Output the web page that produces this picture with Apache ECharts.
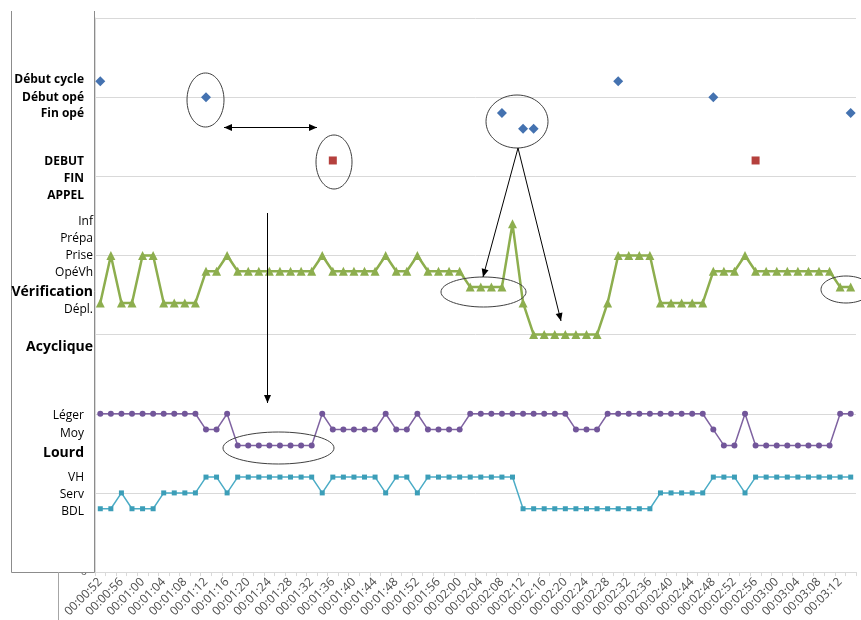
<!DOCTYPE html>
<html>
<head>
<meta charset="utf-8">
<script src="https://cdn.jsdelivr.net/npm/echarts@6/dist/echarts.min.js"></script>
<style>
html,body{margin:0;padding:0;background:#fff;}
#chart{width:861px;height:620px;}
</style>
</head>
<body>
<div id="chart"></div>
<script>
// ---- categories (time stamps, every 2 s) ----
const categories = [
 '00:00:52','00:00:54','00:00:56','00:00:58',
 '00:01:00','00:01:02','00:01:04','00:01:06','00:01:08','00:01:10','00:01:12','00:01:14','00:01:16','00:01:18',
 '00:01:20','00:01:22','00:01:24','00:01:26','00:01:28','00:01:30','00:01:32','00:01:34','00:01:36','00:01:38',
 '00:01:40','00:01:42','00:01:44','00:01:46','00:01:48','00:01:50','00:01:52','00:01:54','00:01:56','00:01:58',
 '00:02:00','00:02:02','00:02:04','00:02:06','00:02:08','00:02:10','00:02:12','00:02:14','00:02:16','00:02:18',
 '00:02:20','00:02:22','00:02:24','00:02:26','00:02:28','00:02:30','00:02:32','00:02:34','00:02:36','00:02:38',
 '00:02:40','00:02:42','00:02:44','00:02:46','00:02:48','00:02:50','00:02:52','00:02:54','00:02:56','00:02:58',
 '00:03:00','00:03:02','00:03:04','00:03:06','00:03:08','00:03:10','00:03:12','00:03:14'
];

// ---- series values ----
const _ = null;
// Début cycle (6.2) / Début opé (6.0) / Fin opé (5.8) ...
const cycleEvents = [
 6.2,_,_,_,_,_,_,_,_,_,6.0,_,
 _,_,_,_,_,_,_,_,_,_,_,_,
 _,_,_,_,_,_,_,_,_,_,_,_,
 _,_,5.8,_,5.6,5.6,_,_,_,_,_,_,
 _,6.2,_,_,_,_,_,_,_,_,6.0,_,
 _,_,_,_,_,_,_,_,_,_,_,5.8
];
// DEBUT (5.2) / FIN (5.0) / APPEL (4.8)
const callEvents = [
 _,_,_,_,_,_,_,_,_,_,_,_,
 _,_,_,_,_,_,_,_,_,_,5.2,_,
 _,_,_,_,_,_,_,_,_,_,_,_,
 _,_,_,_,_,_,_,_,_,_,_,_,
 _,_,_,_,_,_,_,_,_,_,_,_,
 _,_,5.2,_,_,_,_,_,_,_,_,_
];
// Inf 4.4 / Prépa 4.2 / Prise 4.0 / OpéVh 3.8 / Vérification 3.6 / Dépl. 3.4 / Acyclique 3.0
const activity = [
 3.4,4.0,3.4,3.4,4.0,4.0,3.4,3.4,3.4,3.4,3.8,3.8,
 4.0,3.8,3.8,3.8,3.8,3.8,3.8,3.8,3.8,4.0,3.8,3.8,
 3.8,3.8,3.8,4.0,3.8,3.8,4.0,3.8,3.8,3.8,3.8,3.6,
 3.6,3.6,3.6,4.4,3.4,3.0,3.0,3.0,3.0,3.0,3.0,3.0,
 3.4,4.0,4.0,4.0,4.0,3.4,3.4,3.4,3.4,3.4,3.8,3.8,
 3.8,4.0,3.8,3.8,3.8,3.8,3.8,3.8,3.8,3.8,3.6,3.6
];
// Léger 2.0 / Moy 1.8 / Lourd 1.6
const load = [
 2.0,2.0,2.0,2.0,2.0,2.0,2.0,2.0,2.0,2.0,1.8,1.8,
 2.0,1.6,1.6,1.6,1.6,1.6,1.6,1.6,1.6,2.0,1.8,1.8,
 1.8,1.8,1.8,2.0,1.8,1.8,2.0,1.8,1.8,1.8,1.8,2.0,
 2.0,2.0,2.0,2.0,2.0,2.0,2.0,2.0,2.0,1.8,1.8,1.8,
 2.0,2.0,2.0,2.0,2.0,2.0,2.0,2.0,2.0,2.0,1.8,1.6,
 1.6,2.0,1.6,1.6,1.6,1.6,1.6,1.6,1.6,1.6,2.0,2.0
];
// VH 1.2 / Serv 1.0 / BDL 0.8
const place = [
 0.8,0.8,1.0,0.8,0.8,0.8,1.0,1.0,1.0,1.0,1.2,1.2,
 1.0,1.2,1.2,1.2,1.2,1.2,1.2,1.2,1.2,1.0,1.2,1.2,
 1.2,1.2,1.2,1.0,1.2,1.2,1.0,1.2,1.2,1.2,1.2,1.2,
 1.2,1.2,1.2,1.2,0.8,0.8,0.8,0.8,0.8,0.8,0.8,0.8,
 0.8,0.8,0.8,0.8,0.8,1.0,1.0,1.0,1.0,1.0,1.2,1.2,
 1.2,1.0,1.2,1.2,1.2,1.2,1.2,1.2,1.2,1.2,1.2,1.2
];

// ---- left-hand level labels ----
const levelLabels = [
 {t:'Début cycle', b:true},{t:'Début opé', b:true},{t:'Fin opé', b:true},
 {t:'DEBUT', b:true},{t:'FIN', b:true},{t:'APPEL', b:true},
 {t:'Inf'},{t:'Prépa'},{t:'Prise'},{t:'OpéVh'},{t:'Vérification', big:true},{t:'Dépl.'},
 {t:'Acyclique', big:true},
 {t:'Léger'},{t:'Moy'},{t:'Lourd', big:true},
 {t:'VH'},{t:'Serv'},{t:'BDL'}
];
const labelPos = [
 [84,78],[84,96],[84,112],[84,160],[84,177],[84,194],
 [93,220],[93,237],[93,254],[93,271],[93,290],[93,308],[93,345],
 [84,414],[84,432],[84,451],[84,476],[84,493],[84,510]
];

const FONT = '"Open Sans", "Noto Sans", sans-serif';
const chart = echarts.init(document.getElementById('chart'), null, {renderer:'canvas'});

const graphics = [];
// white box covering axis labels
graphics.push({type:'rect', z:100, shape:{x:11,y:11,width:84,height:561}, style:{fill:'#fff', stroke:null}});
graphics.push({type:'polyline', z:101, shape:{points:[[11.5,11],[11.5,572.5],[94.5,572.5],[94.5,11]]}, style:{stroke:'#8c8c8c', lineWidth:1, fill:null}});
// outer chart border fragment
graphics.push({type:'line', z:101, shape:{x1:58.5,y1:572,x2:58.5,y2:620}, style:{stroke:'#a6a6a6', lineWidth:1}});

levelLabels.forEach((l,i)=>{
  const weight = (l.b||l.big) ? 'bold' : 'normal';
  const size = l.big ? 14 : 12;
  graphics.push({type:'text', z:102, x:labelPos[i][0], y:labelPos[i][1]+2, style:{
    text:l.t, fill:'#000', font: weight+' '+size+'px '+FONT,
    textAlign:'right', textVerticalAlign:'middle', align:'right', verticalAlign:'middle'
  }});
});

// annotations
function ellipse(cx,cy,rx,ry){
  graphics.push({type:'ellipse', z:90, shape:{cx:cx,cy:cy,rx:rx,ry:ry}, style:{fill:null, stroke:'#404040', lineWidth:1}});
}
function arrowHead(x1,y1,x2,y2){
  const a = Math.atan2(y2-y1,x2-x1), L=8, W=3.5;
  const bx = x2 - L*Math.cos(a), by = y2 - L*Math.sin(a);
  const px = -Math.sin(a)*W, py = Math.cos(a)*W;
  graphics.push({type:'polygon', z:91, shape:{points:[[x2,y2],[bx+px,by+py],[bx-px,by-py]]}, style:{fill:'#000'}});
}
function arrow(x1,y1,x2,y2,both){
  graphics.push({type:'line', z:91, shape:{x1:x1,y1:y1,x2:x2,y2:y2}, style:{stroke:'#000', lineWidth:1}});
  arrowHead(x1,y1,x2,y2);
  if(both) arrowHead(x2,y2,x1,y1);
}
ellipse(205.5,100,18.5,27);
ellipse(334,162,18,27);
ellipse(517,121.5,31,26.5);
ellipse(483.5,292,42.5,15);
ellipse(846,289.5,25,13.5);
ellipse(278.5,448,55.5,16);
arrow(224,127.5,317,127.5,true);
arrow(518,148,483,277);
arrow(518,148,561,321);
arrow(267.5,213,267.5,403);

const option = {
  animation:false,
  backgroundColor:'#fff',
  grid:{left:95, right:5, top:18, bottom:47, containLabel:false},
  xAxis:{
    type:'category', data:categories, boundaryGap:true,
    axisLine:{show:true, lineStyle:{color:'#d9d9d9', width:1}},
    axisTick:{show:true, interval:0, length:4, lineStyle:{color:'#d9d9d9'}},
    axisLabel:{interval:1, rotate:45, color:'#4d4d4d', fontSize:12, fontFamily:FONT, margin:8},
    splitLine:{show:false}
  },
  yAxis:{
    type:'value', min:0, max:7, interval:1,
    axisLine:{show:true, lineStyle:{color:'#d9d9d9'}},
    axisTick:{show:false},
    axisLabel:{color:'#595959', fontSize:11, fontFamily:FONT, margin:8, formatter:v=> v===0 ? '0' : ''},
    splitLine:{show:true, lineStyle:{color:'#d9d9d9', width:1}}
  },
  series:[
    {type:'line', data:cycleEvents, symbol:'diamond', symbolSize:10, showAllSymbol:true, connectNulls:false,
     lineStyle:{width:0, opacity:0}, itemStyle:{color:'#4472B0'}, z:5},
    {type:'line', data:callEvents, symbol:'rect', symbolSize:8, showAllSymbol:true, connectNulls:false,
     lineStyle:{width:0, opacity:0}, itemStyle:{color:'#B5403D'}, z:5},
    {type:'line', data:activity, symbol:'triangle', symbolSize:9, showAllSymbol:true,
     lineStyle:{width:2.5, color:'#8DAE4E'}, itemStyle:{color:'#8DAE4E'}, z:4},
    {type:'line', data:load, symbol:'circle', symbolSize:6, showAllSymbol:true,
     lineStyle:{width:1.5, color:'#7F63A1'}, itemStyle:{color:'#72569A'}, z:4},
    {type:'line', data:place, symbol:'rect', symbolSize:5, showAllSymbol:true,
     lineStyle:{width:1.5, color:'#4BACC6'}, itemStyle:{color:'#3C9EB8'}, z:4}
  ],
  graphic:{elements:graphics}
};
chart.setOption(option);
</script>
</body>
</html>
